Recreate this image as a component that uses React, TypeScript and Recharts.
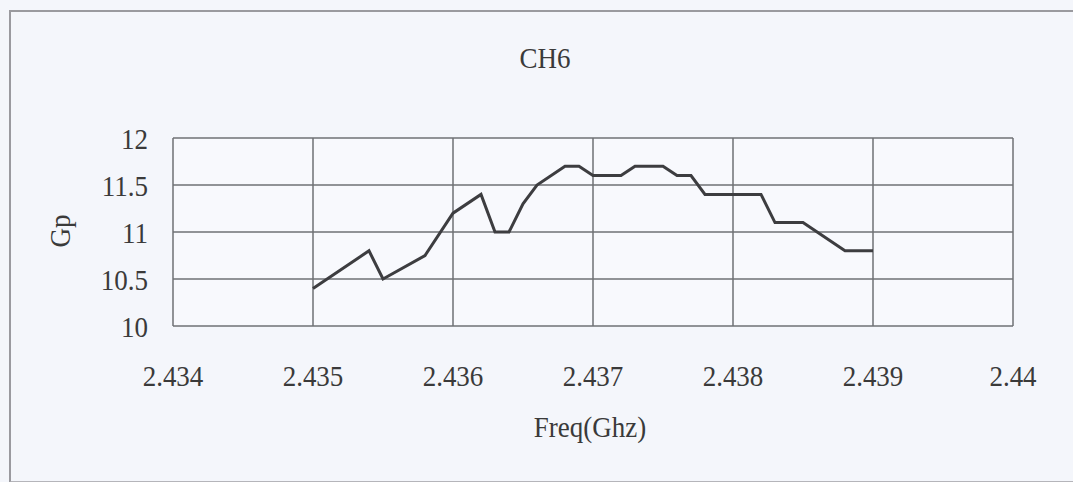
import React from 'react';
import { LineChart, Line, XAxis, YAxis, CartesianGrid, Customized } from 'recharts';

const freqGhz = [2.435, 2.4354, 2.4355, 2.4358, 2.436, 2.4362, 2.4363, 2.4364, 2.4365, 2.4366, 2.4368, 2.4369, 2.437, 2.4372, 2.4373, 2.4375, 2.4376, 2.4377, 2.4378, 2.4382, 2.4383, 2.4385, 2.4388, 2.439];
const gp = [10.4, 10.8, 10.5, 10.75, 11.2, 11.4, 11.0, 11.0, 11.3, 11.5, 11.7, 11.7, 11.6, 11.6, 11.7, 11.7, 11.6, 11.6, 11.4, 11.4, 11.1, 11.1, 10.8, 10.8];
const xTicks = [2.434, 2.435, 2.436, 2.437, 2.438, 2.439, 2.44];
const yTicks = [10, 10.5, 11, 11.5, 12];
const title = 'CH6';
const xLabel = 'Freq(Ghz)';
const yLabel = 'Gp';

const data = freqGhz.map((f, i) => ({ f, gp: gp[i] }));

const FONT = '"Liberation Serif", "Times New Roman", serif';
const TXT = '#3a3a3a';

const XTick = (props: any) => {
  const { x, y, payload } = props;
  return (
    <g transform={`translate(${x},${y + 60}) scale(0.9,1)`}>
      <text x={0} y={0} textAnchor="middle" fontFamily={FONT} fontSize={30} fill={TXT}>
        {String(payload.value)}
      </text>
    </g>
  );
};

const YTick = (props: any) => {
  const { x, y, payload } = props;
  return (
    <g transform={`translate(${x},${y + 11}) scale(0.9,1)`}>
      <text x={0} y={0} textAnchor="end" fontFamily={FONT} fontSize={30} fill={TXT}>
        {String(payload.value)}
      </text>
    </g>
  );
};

const Texts = () => (
  <g>
    <g transform="translate(545,68) scale(0.9,1)">
      <text x={0} y={0} textAnchor="middle" fontFamily={FONT} fontSize={30} fill={TXT}>{title}</text>
    </g>
    <g transform="translate(590,437) scale(0.9,1)">
      <text x={0} y={0} textAnchor="middle" fontFamily={FONT} fontSize={30} fill={TXT}>{xLabel}</text>
    </g>
    <g transform="translate(70,231) rotate(-90) scale(0.9,1)">
      <text x={0} y={0} textAnchor="middle" fontFamily={FONT} fontSize={30} fill={TXT}>{yLabel}</text>
    </g>
  </g>
);

export default function App() {
  return (
    <div style={{ position: 'absolute', left: 0, top: 0, width: 1073, height: 482, background: '#f4f6fb', overflow: 'hidden' }}>
      <div style={{ position: 'absolute', left: 9, top: 10, width: 1080, height: 469, borderLeft: '2px solid #9a9a9f', borderTop: '2px solid #9a9a9f', borderBottom: '2px solid #b5b5ba' }} />
      <div style={{ position: 'absolute', left: 0, top: 0 }}>
        <LineChart width={1073} height={482} data={data} margin={{ top: 138, right: 60, bottom: 96, left: 0 }}>
          <CartesianGrid stroke="#6f7075" strokeWidth={1.5} horizontal vertical fill="#f8f9fd" />
          <XAxis
            dataKey="f"
            type="number"
            domain={[2.434, 2.44]}
            ticks={xTicks}
            allowDataOverflow
            axisLine={false}
            tickLine={false}
            tickSize={0}
            tickMargin={0}
            height={60}
            interval={0}
            tick={<XTick />}
          />
          <YAxis
            type="number"
            domain={[10, 12]}
            ticks={yTicks}
            allowDataOverflow
            axisLine={false}
            tickLine={false}
            tickSize={0}
            tickMargin={25}
            width={173}
            interval={0}
            tick={<YTick />}
          />
          <Line type="linear" dataKey="gp" stroke="#3d3d40" strokeWidth={3} dot={false} isAnimationActive={false} />
          <Customized component={Texts} />
        </LineChart>
      </div>
    </div>
  );
}
